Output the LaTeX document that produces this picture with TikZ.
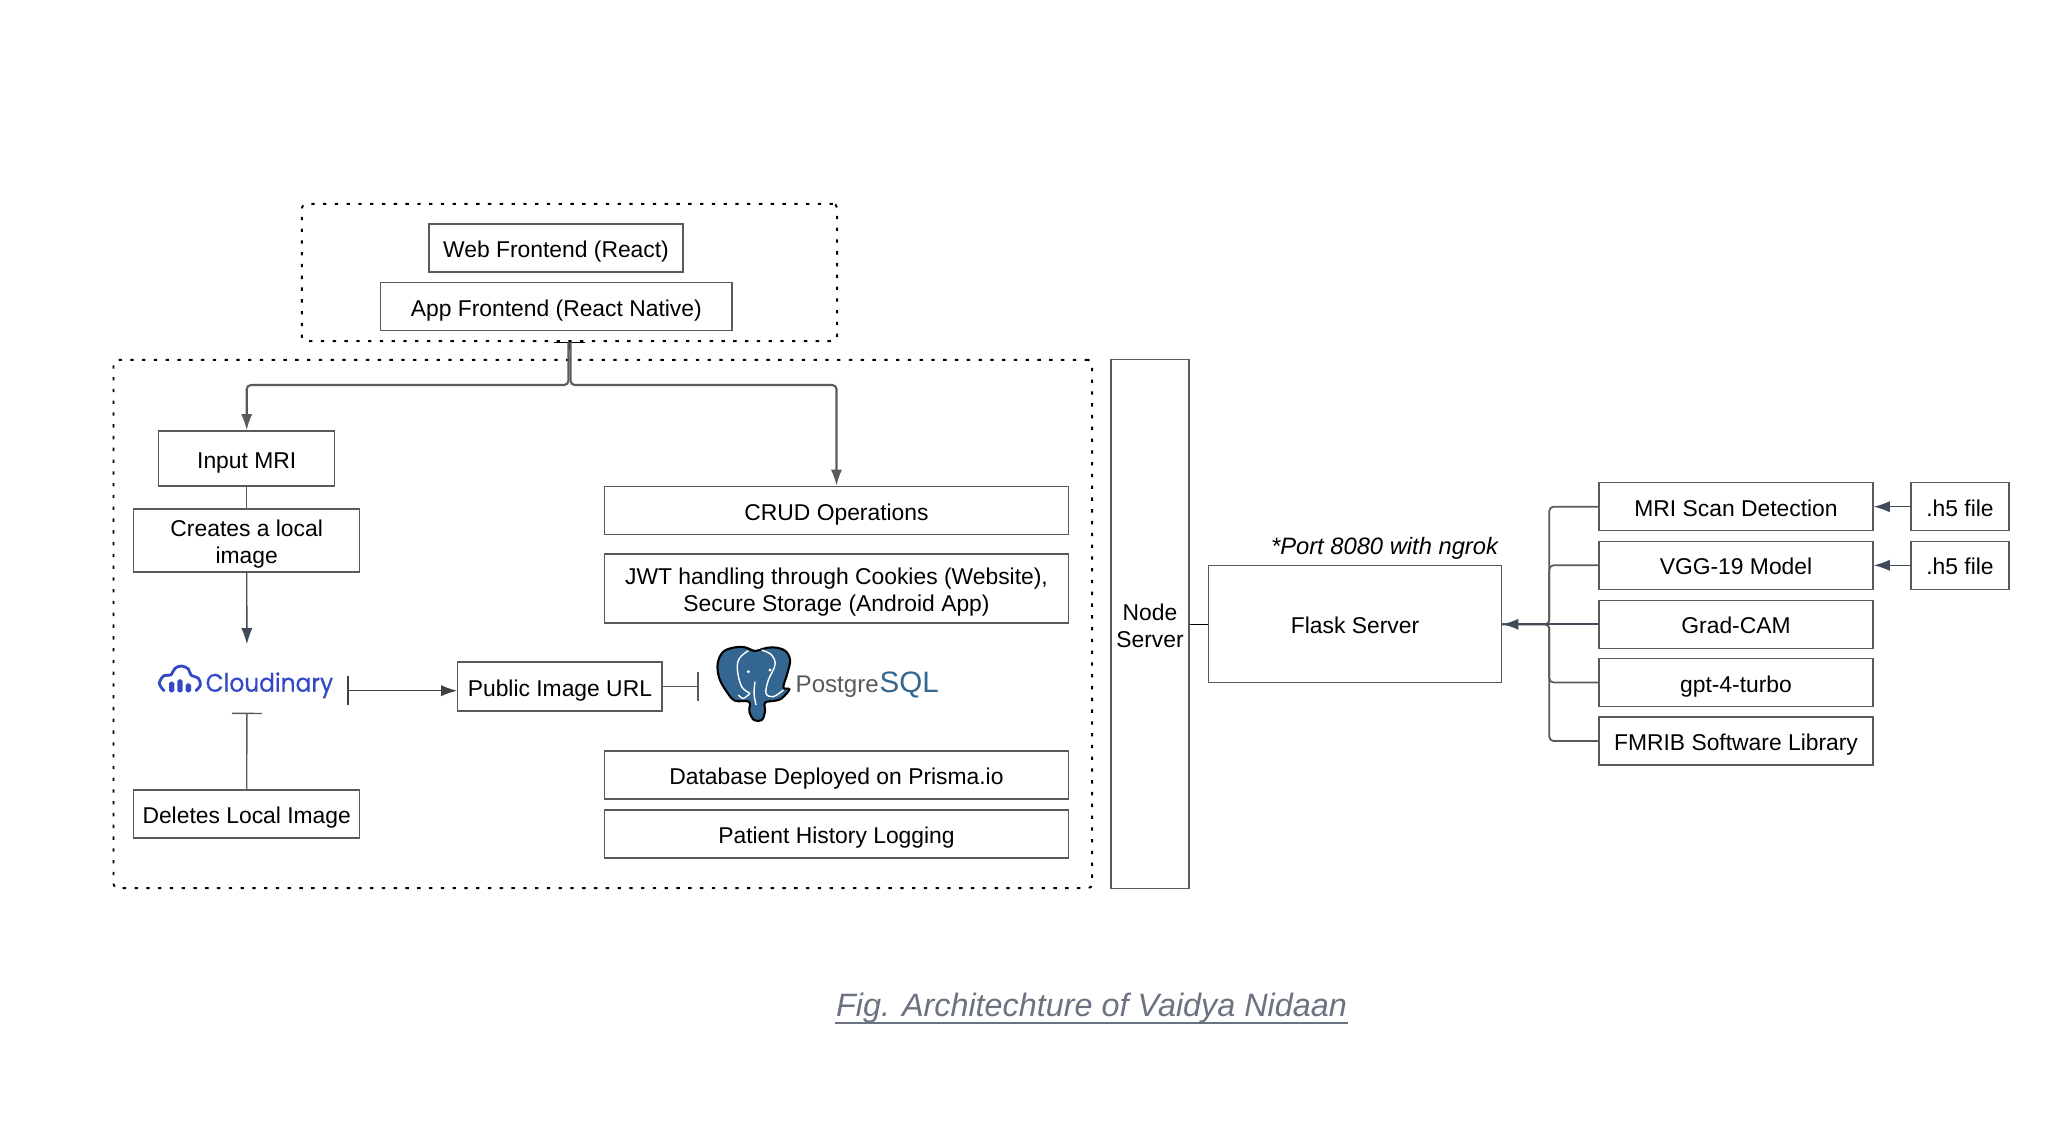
\documentclass[tikz,border=0pt]{standalone}
\usepackage{fontspec}
\setmainfont{Liberation Sans}
\newfontfamily\cloudfont[FakeStretch=0.92,FakeBold=0.4]{Poppins}
\usetikzlibrary{arrows.meta}
\definecolor{edgegray}{HTML}{5A5A5A}
\definecolor{slate}{HTML}{414A58}
\definecolor{captiongray}{HTML}{6B7280}
\definecolor{cloudblue}{HTML}{3448C5}
\definecolor{pgblue}{HTML}{336791}
\tikzset{
	boxsize/.style 2 args={minimum width=#1*.1mm, minimum height=#2*.1mm},
	box/.style={draw=edgegray, line width=0.35pt, inner sep=0pt, align=center, text height=5.5pt, text depth=0pt, font=\fontsize{6.5}{7.6}\selectfont},
	twolines/.style={box, text height=13.2pt},
	dotframe/.style={draw=black, line width=0.55pt, dash pattern=on 0.95pt off 2.4pt, rounded corners=1.2pt, inner sep=0pt},
	logoframe/.style={inner sep=0pt},
	link/.style={draw=edgegray, line width=0.4pt},
	tip/.style={-{Latex[length=4.6pt,width=3.2pt]}},
}

\begin{document}
\begin{tikzpicture}[x=0.01cm, y=-0.01cm]
	\useasboundingbox (0,0) rectangle (2048,1127);

	\node[dotframe, boxsize={535}{137}] (front) at (569.5,272.5) {};
	\node[dotframe, boxsize={978}{528}] (backend) at (602.8,624) {};

	\node[box, boxsize={254}{48}] (web) at (556,248) {Web Frontend (React)};
	\node[box, boxsize={351}{48}] (app) at (556.3,306.5) {App Frontend (React Native)};

	\node[box, boxsize={176}{55}] (mri) at (246.7,458.4) {Input MRI};
	\node[twolines, boxsize={226}{63}] (creates) at (246.7,540.4) {Creates a local\\image};
	\node[box, boxsize={226}{48}] (deletes) at (246.7,814) {Deletes Local Image};
	\node[box, boxsize={204}{49}] (url) at (559.9,686.5) {Public Image URL};

	\node[box, boxsize={463}{48}] (crud) at (836.5,510.4) {CRUD Operations};
	\node[twolines, boxsize={463}{69}] (jwt) at (836.5,588.5) {JWT handling through Cookies (Website),\\Secure Storage (Android App)};
	\node[box, boxsize={463}{48}] (prisma) at (836.5,775) {Database Deployed on Prisma.io};
	\node[box, boxsize={463}{48}] (history) at (836.5,834) {Patient History Logging};

	\node[twolines, boxsize={78}{528}] (nodeserver) at (1150,624) {Node\\Server};
	\node[box, boxsize={293}{117}] (flask) at (1355,624.3) {Flask Server};
	\node[logoframe, font=\fontsize{6.75}{7.6}\selectfont\itshape] (port) at (1384.5,548.5) {*Port 8080 with ngrok};

	\node[box, boxsize={274}{48}] (scan) at (1736,506.7) {MRI Scan Detection};
	\node[box, boxsize={274}{48}] (vgg) at (1736,565.3) {VGG-19 Model};
	\node[box, boxsize={274}{48}] (gradcam) at (1736,624.3) {Grad-CAM};
	\node[box, boxsize={274}{48}] (gpt) at (1736,682.5) {gpt-4-turbo};
	\node[box, boxsize={274}{48}] (fmrib) at (1736,741) {FMRIB Software Library};
	\node[box, boxsize={98}{48}] (scanfile) at (1960,506.7) {.h5 file};
	\node[box, boxsize={98}{48}] (vggfile) at (1960,565.3) {.h5 file};

	\node[logoframe, boxsize={201}{67}] (cloudinary) at (246.9,678.5) {};
	\node[logoframe, anchor=base west, text=cloudblue, font=\fontsize{7.2}{8}\cloudfont] (cloudname) at (205,691.7) {Cloudinary};
	\begin{scope}[shift={(140,640)}, x=0.03333mm, y=-0.03333mm]
		\draw[cloudblue, line width=0.8pt, line cap=round] plot[smooth, tension=0.6] coordinates {(72,152) (58,130) (72,107) (92,105) (105,85) (125,78) (145,87) (153,105) (175,115) (181,135) (168,152)};
		\foreach \u/\h in {95/125, 120/118, 145/130}
			\fill[cloudblue, rounded corners=0.5pt] (\u-8,157) rectangle (\u+8,\h);
	\end{scope}

	\node[logoframe, boxsize={241}{70}] (postgres) at (820,686.5) {};
	\begin{scope}[shift={(680,630)}, x=0.03333mm, y=-0.03333mm]
		\draw[black, fill=pgblue, line width=0.6pt] plot[smooth cycle, tension=0.6] coordinates {(165,52) (130,65) (113,100) (118,145) (140,185) (165,212) (207,215) (208,245) (222,270) (245,270) (255,245) (255,218) (285,212) (305,205) (328,178) (310,172) (322,130) (330,90) (315,62) (280,52) (250,56) (225,63) (195,52)};
		\draw[white, line width=0.4pt] plot[smooth, tension=0.6] coordinates {(205,62) (178,85) (172,120) (185,170) (210,190)};
		\draw[white, line width=0.4pt] plot[smooth, tension=0.6] coordinates {(245,60) (275,75) (285,105) (265,150) (258,190) (280,200) (310,180)};
		\draw[white, line width=0.4pt] plot[smooth, tension=0.6] coordinates {(210,190) (190,205) (175,195)};
		\draw[white, line width=0.4pt] plot[smooth, tension=0.6] coordinates {(225,155) (222,190) (228,225)};
		\fill[white] (205,125) circle (5);
		\fill[white] (270,120) circle (5);
	\end{scope}
	\node[logoframe, anchor=base west, text=black!65, font=\fontsize{6.85}{8}\selectfont] (postgrename) at (795,692.5) {Postgre};
	\node[logoframe, anchor=base west, text=pgblue, font=\fontsize{8.4}{9}\selectfont] (sqlname) at (879,692.5) {SQL};

	\node[logoframe, text=captiongray, font=\fontsize{9.2}{10}\selectfont\itshape] (caption) at (1091.5,1008) {Fig. Architechture of Vaidya Nidaan};

	\coordinate (cloudout) at (347.4,690.7);

	\draw[{Bar[width=8.8pt]}-, draw=black, line width=0.4pt] (front.south) -- ++(0,8);
	\draw[tip, draw=edgegray, line width=0.6pt, rounded corners=1.2pt] ([xshift=-0.3pt]front.south) -- ++(0,43) -| (mri.north);
	\draw[tip, draw=edgegray, line width=0.6pt, rounded corners=1.2pt] ([xshift=0.3pt]front.south) -- ++(0,43) -| (crud.north);

	\draw[link] (mri.south) -- (creates.north);
	\draw[link, tip, slate] (creates.south) -- (cloudinary.north);
	\draw[link, {Bar[width=8.5pt]}-] (cloudinary.south) -- (deletes.north);
	\draw[{Bar[width=8.2pt]}-{Latex[length=4.6pt,width=3.2pt]}, draw=black!75, line width=0.45pt] (cloudout) -- (cloudout -| url.west);
	\draw[-{Bar[width=8.2pt]}, link] (url.east) -- (postgres.west);

	\draw[draw=black, line width=0.4pt] (nodeserver.east |- flask.west) -- (flask.west);
	\foreach \branch in {scan,vgg,gpt,fmrib}
		\draw[link, line width=0.5pt, rounded corners=1.2pt] (\branch.west) -- ++(-49,0) |- (flask.east);
	\draw[link, tip, slate, line width=0.5pt] (gradcam.west) -- (flask.east);
	\draw[link, tip, slate] (scanfile.west) -- (scan.east);
	\draw[link, tip, slate] (vggfile.west) -- (vgg.east);

	\draw[captiongray, line width=0.45pt] (caption.south west |- 0,1023) -- (caption.south east |- 0,1023);
\end{tikzpicture}
\end{document}
